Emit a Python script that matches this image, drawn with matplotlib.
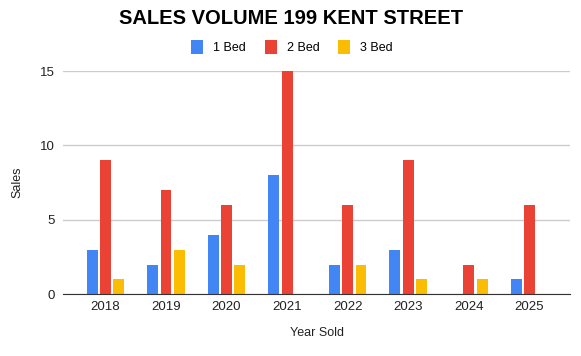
import numpy as np
import matplotlib.pyplot as plt

plt.rcParams['font.family'] = ['Liberation Sans', 'DejaVu Sans']

years = ['2018', '2019', '2020', '2021', '2022', '2023', '2024', '2025']
bed1 = [3, 2, 4, 8, 2, 3, 0, 1]
bed2 = [9, 7, 6, 15, 6, 9, 2, 6]
bed3 = [1, 3, 2, 0, 2, 1, 1, 0]
series = [('1 Bed', bed1, '#4285F4'), ('2 Bed', bed2, '#EA4335'), ('3 Bed', bed3, '#FBBC04')]

fig = plt.figure(figsize=(5.81, 3.56), dpi=100)
ax = fig.add_axes([63/581, 1-294.3/356, 507/581, (294.3-71)/356])

x = np.arange(len(years))
w = 0.18
step = 0.22
for i, (name, vals, col) in enumerate(series):
    ax.bar(x + (i-1)*step, vals, w, color=col, label=name, zorder=3)

ax.set_xlim(-0.70, 7.67)
ax.set_ylim(0, 15)
ax.set_yticks([0, 5, 10, 15])
ax.set_xticks(x)
ax.set_xticklabels(years)
ax.grid(axis='y', color='#cccccc', linewidth=1, zorder=0)
for s in ['top', 'right', 'left']:
    ax.spines[s].set_visible(False)
ax.spines['bottom'].set_color('#333333')
ax.spines['bottom'].set_zorder(4)
ax.tick_params(length=0, labelsize=9.5, colors='#222222')
ax.tick_params(axis='y', pad=6)
ax.tick_params(axis='x', pad=5)

ax.set_xlabel('Year Sold', fontsize=9, color='#222222', labelpad=10)
ax.set_ylabel('Sales', fontsize=9, color='#222222', labelpad=12)

fig.text(291/581, 1-18/356, 'SALES VOLUME 199 KENT STREET', ha='center', va='center',
         fontsize=14.5, fontweight='bold', color='black')
fig.legend(loc='center', bbox_to_anchor=(292/581, 1-47/356), ncol=3, frameon=False,
           fontsize=9, handlelength=0.95, handleheight=1.3, handletextpad=0.8, columnspacing=1.5)

fig.savefig('out.png', dpi=100)
